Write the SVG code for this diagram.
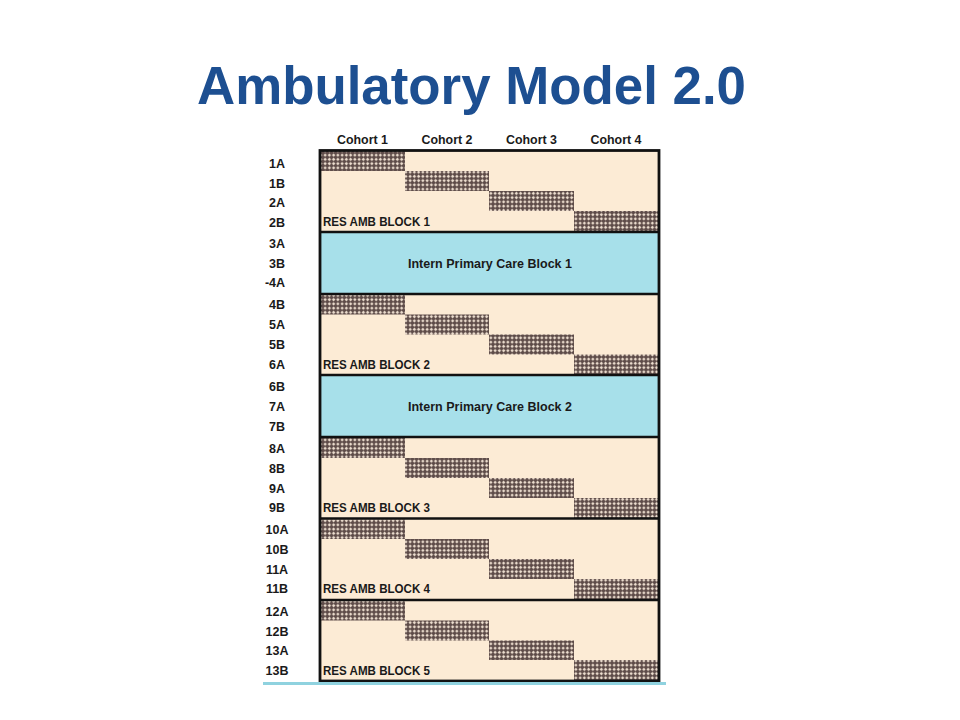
<svg xmlns="http://www.w3.org/2000/svg" width="960" height="720" viewBox="0 0 960 720">
<defs>
<pattern id="hatch" width="4.25" height="4.25" patternUnits="userSpaceOnUse">
<rect width="4.25" height="4.25" fill="#5e4c49"/>
<path d="M2.125 0.45 L3.8 2.125 L2.125 3.8 L0.45 2.125 Z" fill="#eedfd0"/>
</pattern>
<style>
.lbl{font-family:"Liberation Sans",Arial,sans-serif;font-weight:bold;font-size:12.5px;fill:#1a1a1a;text-anchor:middle}
.hdr{font-family:"Liberation Sans",Arial,sans-serif;font-weight:bold;font-size:12.5px;fill:#1a1a1a;text-anchor:middle}
.blk{font-family:"Liberation Sans",Arial,sans-serif;font-weight:bold;font-size:13px;fill:#1a1a1a}
.ipc{font-family:"Liberation Sans",Arial,sans-serif;font-weight:bold;font-size:13px;fill:#1a1a1a;text-anchor:middle}
.cream{fill:#fcebd5}
.cyan{fill:#a7e0ea}
.h{fill:url(#hatch)}
.sep{stroke:#111;stroke-width:2.6}
</style>
</defs>
<rect width="960" height="720" fill="#ffffff"/>
<text x="471.5" y="104" font-family="'Liberation Sans',Arial,sans-serif" font-weight="bold" font-size="53" fill="#1d4f91" text-anchor="middle" textLength="549" lengthAdjust="spacingAndGlyphs">Ambulatory Model 2.0</text>

<g id="headers">
<text class="hdr" x="362.5" y="144" textLength="51" lengthAdjust="spacingAndGlyphs">Cohort 1</text>
<text class="hdr" x="447" y="144" textLength="51" lengthAdjust="spacingAndGlyphs">Cohort 2</text>
<text class="hdr" x="531.5" y="144" textLength="51" lengthAdjust="spacingAndGlyphs">Cohort 3</text>
<text class="hdr" x="616" y="144" textLength="51" lengthAdjust="spacingAndGlyphs">Cohort 4</text>
</g>

<g id="row-labels">
<text class="lbl" x="277" y="168">1A</text>
<text class="lbl" x="277" y="188">1B</text>
<text class="lbl" x="277" y="207">2A</text>
<text class="lbl" x="277" y="227">2B</text>
<text class="lbl" x="277" y="248">3A</text>
<text class="lbl" x="277" y="268">3B</text>
<text class="lbl" x="275" y="287">-4A</text>
<text class="lbl" x="277" y="309">4B</text>
<text class="lbl" x="277" y="329">5A</text>
<text class="lbl" x="277" y="349">5B</text>
<text class="lbl" x="277" y="369">6A</text>
<text class="lbl" x="277" y="391">6B</text>
<text class="lbl" x="277" y="411">7A</text>
<text class="lbl" x="277" y="431">7B</text>
<text class="lbl" x="277" y="453">8A</text>
<text class="lbl" x="277" y="473">8B</text>
<text class="lbl" x="277" y="493">9A</text>
<text class="lbl" x="277" y="512">9B</text>
<text class="lbl" x="277" y="534">10A</text>
<text class="lbl" x="277" y="554">10B</text>
<text class="lbl" x="277" y="574">11A</text>
<text class="lbl" x="277" y="593">11B</text>
<text class="lbl" x="277" y="616">12A</text>
<text class="lbl" x="277" y="636">12B</text>
<text class="lbl" x="277" y="655">13A</text>
<text class="lbl" x="277" y="675">13B</text>
</g>

<g id="res-amb-block-1">
<rect class="cream" x="320" y="151" width="339" height="81"/>
<rect class="h" x="320" y="151" width="85" height="20"/>
<rect class="h" x="405" y="171" width="84" height="20"/>
<rect class="h" x="489" y="191" width="85" height="20"/>
<rect class="h" x="574" y="211" width="85" height="20"/>
<text class="blk" x="323" y="226" textLength="107" lengthAdjust="spacingAndGlyphs">RES AMB BLOCK 1</text>
</g>

<g id="intern-block-1">
<rect class="cyan" x="320" y="232" width="339" height="62"/>
<text class="ipc" x="490" y="268" textLength="164" lengthAdjust="spacingAndGlyphs">Intern Primary Care Block 1</text>
</g>

<g id="res-amb-block-2">
<rect class="cream" x="320" y="294" width="339" height="81"/>
<rect class="h" x="320" y="294.5" width="85" height="20"/>
<rect class="h" x="405" y="314.5" width="84" height="20"/>
<rect class="h" x="489" y="334.5" width="85" height="20"/>
<rect class="h" x="574" y="354.5" width="85" height="20"/>
<text class="blk" x="323" y="369" textLength="107" lengthAdjust="spacingAndGlyphs">RES AMB BLOCK 2</text>
</g>

<g id="intern-block-2">
<rect class="cyan" x="320" y="375" width="339" height="62"/>
<text class="ipc" x="490" y="411" textLength="164" lengthAdjust="spacingAndGlyphs">Intern Primary Care Block 2</text>
</g>

<g id="res-amb-block-3">
<rect class="cream" x="320" y="437" width="339" height="82"/>
<rect class="h" x="320" y="438" width="85" height="20"/>
<rect class="h" x="405" y="458" width="84" height="20"/>
<rect class="h" x="489" y="478" width="85" height="20"/>
<rect class="h" x="574" y="498" width="85" height="20"/>
<text class="blk" x="323" y="512" textLength="107" lengthAdjust="spacingAndGlyphs">RES AMB BLOCK 3</text>
</g>

<g id="res-amb-block-4">
<rect class="cream" x="320" y="518.5" width="339" height="82"/>
<rect class="h" x="320" y="519.5" width="85" height="19.5"/>
<rect class="h" x="405" y="539" width="84" height="20"/>
<rect class="h" x="489" y="559" width="85" height="20"/>
<rect class="h" x="574" y="579" width="85" height="20"/>
<text class="blk" x="323" y="593" textLength="107" lengthAdjust="spacingAndGlyphs">RES AMB BLOCK 4</text>
</g>

<g id="res-amb-block-5">
<rect class="cream" x="320" y="600" width="339" height="81"/>
<rect class="h" x="320" y="601" width="85" height="19.5"/>
<rect class="h" x="405" y="620.5" width="84" height="20"/>
<rect class="h" x="489" y="640.5" width="85" height="19.5"/>
<rect class="h" x="574" y="660" width="85" height="20"/>
<text class="blk" x="323" y="675" textLength="107" lengthAdjust="spacingAndGlyphs">RES AMB BLOCK 5</text>
</g>

<g id="grid-lines">
<line class="sep" x1="320" y1="232" x2="659" y2="232"/>
<line class="sep" x1="320" y1="294" x2="659" y2="294"/>
<line class="sep" x1="320" y1="375" x2="659" y2="375"/>
<line class="sep" x1="320" y1="437" x2="659" y2="437"/>
<line class="sep" x1="320" y1="518.5" x2="659" y2="518.5"/>
<line class="sep" x1="320" y1="600" x2="659" y2="600"/>
<rect x="320" y="150.5" width="339" height="530.5" fill="none" stroke="#111" stroke-width="2.8"/>
</g>

<line x1="263" y1="683.5" x2="666" y2="683.5" stroke="#8fd2df" stroke-width="3"/>
</svg>
